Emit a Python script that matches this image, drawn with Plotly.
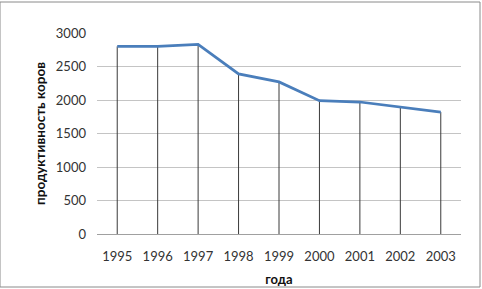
import plotly.graph_objects as go

years = ["1995", "1996", "1997", "1998", "1999", "2000", "2001", "2002", "2003"]
productivity = [2800, 2800, 2830, 2390, 2270, 1990, 1970, 1900, 1820]
y_ticks = [0, 500, 1000, 1500, 2000, 2500, 3000]

# drop lines from each point down to the category axis
drop_x, drop_y = [], []
for yr, v in zip(years, productivity):
    drop_x += [yr, yr, None]
    drop_y += [0, v, None]

fig = go.Figure()
fig.add_trace(go.Scatter(x=drop_x, y=drop_y, mode="lines",
                         line=dict(color="#3a3a3a", width=1),
                         hoverinfo="skip", showlegend=False))
fig.add_trace(go.Scatter(x=years, y=productivity, mode="lines",
                         line=dict(color="#4A7EBB", width=2.75),
                         showlegend=False))

font_family = "Lato, 'Liberation Sans', sans-serif"
fig.update_layout(
    width=482, height=289,
    margin=dict(l=97, r=21, t=33, b=55),
    paper_bgcolor="white", plot_bgcolor="white",
    font=dict(family=font_family, size=13, color="#333333"),
    xaxis=dict(type="category", range=[-0.5, 8.5], showgrid=False,
               automargin=False,
               showline=True, linecolor="#a0a0a0", linewidth=1,
               ticks="", tickfont=dict(size=13, color="#333333"),
               ticklabelstandoff=10,
               title=dict(text="<b>года</b>", font=dict(size=13, color="#111111"),
                          standoff=12)),
    yaxis=dict(range=[0, 3000], tickvals=y_ticks, showgrid=True,
               automargin=False,
               gridcolor="#c4c4c4", gridwidth=1, zeroline=False,
               showline=False, ticks="",
               ticklabelstandoff=10,
               tickfont=dict(size=13, color="#333333"),
               title=dict(text="<b>продуктивность коров</b>",
                          font=dict(size=13.5, color="#111111"), standoff=7)),
    shapes=[dict(type="rect", xref="paper", yref="paper",
                 x0=-97/364, x1=1+19/364, y0=-53/201, y1=1+31/201,
                 line=dict(color="#8a8a8a", width=1), layer="below")],
)

fig.write_html("out.html")
